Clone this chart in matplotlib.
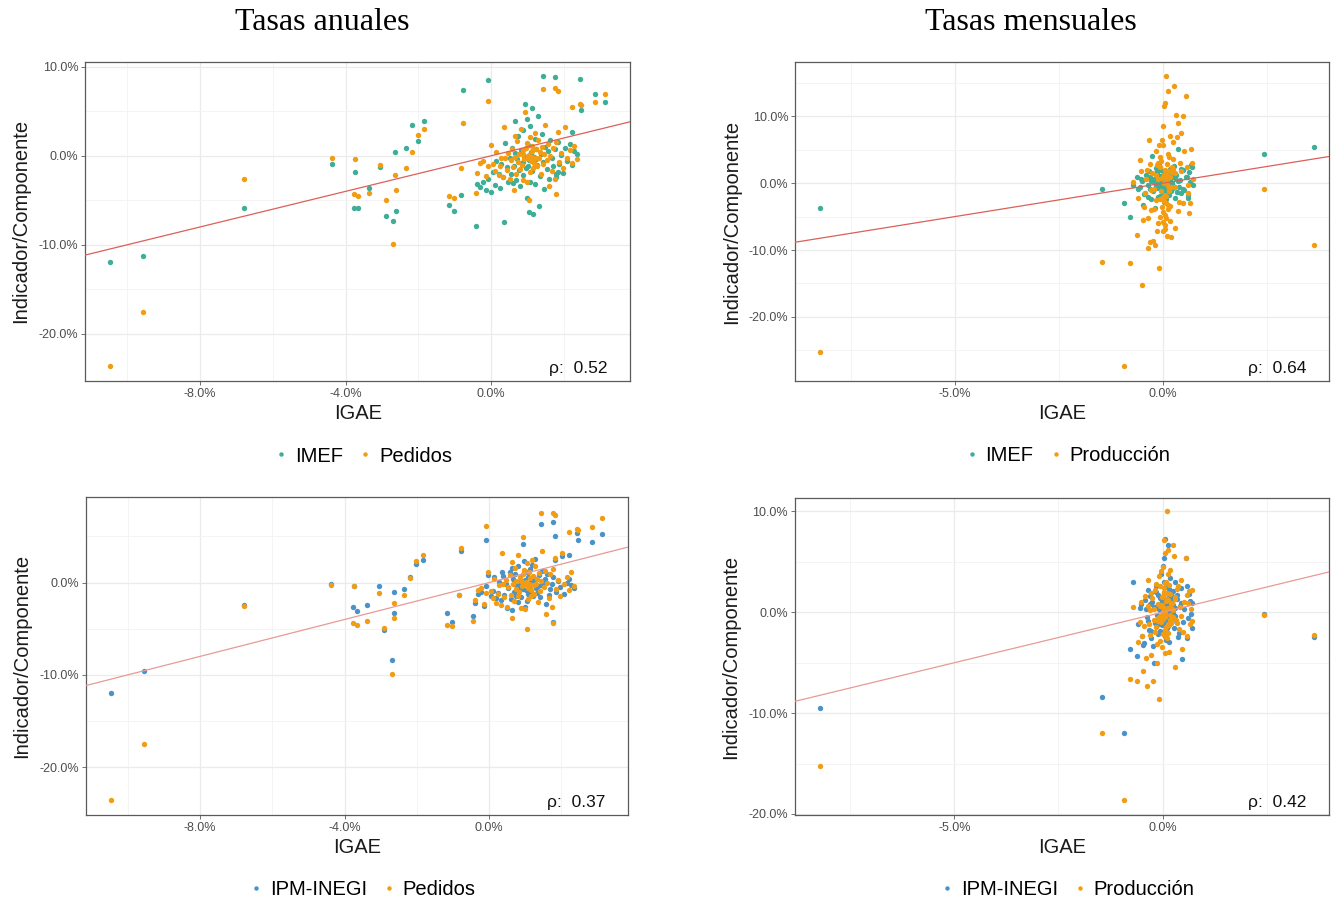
import matplotlib.pyplot as plt
from matplotlib.lines import Line2D
import numpy as np

plt.rcParams['font.family'] = ['Liberation Sans', 'DejaVu Sans']

# ---------------- annual rates (IGAE on x, shared by all annual series)
igae_anual = [
    -10.47, -9.56, -6.79, -4.38, -3.75, -3.77, -3.65, -3.37, -3.05, -2.90,
    -2.69, -2.62, -2.64, -2.35, -2.18, -2.01, -1.84, -1.15, -1.02, -0.83,
    -0.78, -0.43, -0.09, 0.36, 1.04, 1.43, 1.76, 1.84, 2.43, 2.84,
    3.13, 2.46, 2.22, 1.77,
    -0.38, -0.30, -0.22, -0.15, -0.08, -0.02, 0.05, 0.10, 0.14, 0.20,
    0.25, 0.28, 0.33, 0.38, 0.42, 0.46, 0.50, 0.53, 0.57, 0.60,
    0.63, 0.66, 0.68, 0.71, 0.74, 0.76, 0.79, 0.81, 0.84, 0.86,
    0.88, 0.91, 0.93, 0.95, 0.97, 0.99, 1.01, 1.03, 1.05, 1.07,
    1.09, 1.11, 1.13, 1.15, 1.17, 1.19, 1.21, 1.23, 1.26, 1.28,
    1.30, 1.33, 1.36, 1.39, 1.42, 1.45, 1.48, 1.52, 1.55, 1.58,
    1.62, 1.66, 1.70, 1.74, 1.78, 1.82, 1.86, 1.91, 1.96, 2.02,
    2.08, 2.15, 2.21, 2.28, 2.35, 0.65, 1.00, 1.12, 0.88, 1.24,
]
imef_anual = [
    -11.98, -11.3, -5.82, -0.97, -1.79, -5.9, -5.82, -3.66, -1.23, -6.79,
    -7.28, -6.19, 0.37, 0.86, 3.5, 1.64, 3.92, -5.52, -6.19, -4.44,
    7.35, -7.87, 8.54, -7.39, -6.3, 8.92, 8.81, -1.8, 8.66, 6.98,
    6.08, 5.11, 2.7, -2.4,
    -3.2, -3.5, -2.9, -3.8, -2.6, -4.1, -1.8, -3.3, -0.6, -2.1,
    -3.6, -0.9, -2.4, 1.4, -1.3, -3.0, -0.2, -2.0, 0.9, -3.1,
    -1.1, 0.3, -2.7, -0.4, 2.2, -1.6, -3.4, 0.6, -0.8, 2.9,
    -2.2, 0.0, 5.8, -1.4, 4.1, -4.8, 1.2, -0.5, 3.3, -2.9,
    0.4, -1.7, 5.4, -6.6, -0.1, 1.9, -3.2, 0.8, -1.0, 4.5,
    -5.7, -2.3, 0.2, 2.4, -0.7, -3.7, 1.0, -1.5, 0.5, -2.6,
    1.8, -0.3, -1.2, 0.7, -2.0, 1.5, -0.9, 0.1, -1.9, 0.9,
    -0.6, 1.3, -1.0, 0.5, 0.2, 3.9, -1.2, 0.0, -0.7, -0.4,
]
pedidos_anual = [
    -23.6, -17.5, -2.57, -0.22, -0.41, -4.33, -4.55, -4.14, -1.08, -4.93,
    -9.96, -3.84, -2.16, -1.38, 0.45, 2.31, 3.02, -4.55, -4.74, -1.38,
    3.73, -4.14, 6.16, 3.2, -5.0, 7.54, 7.6, 7.28, 5.86, 6.08,
    6.98, 5.7, 5.49, -4.33,
    -1.9, -0.8, -0.6, -2.3, -1.1, 1.2, -0.9, -1.7, 0.4, -2.2,
    -1.2, -0.3, -2.4, -0.2, -1.6, 0.3, -2.6, -0.5, 0.8, -1.3,
    -3.8, -0.1, -2.0, 1.6, -0.7, 0.2, -1.5, 3.0, -1.0, 0.6,
    -2.7, -0.4, 4.9, 0.9, 1.4, -2.9, -0.2, 0.1, 2.1, -1.8,
    -0.6, 1.1, 0.5, -1.4, -0.8, 2.5, -0.3, 0.7, -1.2, 1.8,
    -0.2, 0.4, -2.1, 1.0, -0.9, 0.2, 3.4, -0.5, 1.3, -3.4,
    0.0, -1.7, 0.9, -2.6, 1.5, 2.7, -0.7, 0.3, -1.4, 3.2,
    -0.2, 0.6, -0.8, 1.1, -0.4, 2.2, 0.0, -0.1, 0.2, -0.3,
]
ipm_anual = [
    -12.0, -9.57, -2.45, -0.2, -0.35, -2.64, -3.1, -2.45, -0.36, -5.09,
    -8.41, -3.32, -1.01, -0.65, 0.58, 2.02, 2.45, -3.29, -4.26, -1.37,
    3.43, -3.57, 4.62, 1.1, -2.0, 6.35, 6.6, 5.0, 5.4, 4.44,
    5.3, 4.6, 3.0, -4.22,
    -2.2, -1.2, -1.0, -2.5, -0.4, 0.8, -1.5, -0.9, 0.6, -1.7,
    -1.1, 0.1, -1.9, 0.7, -1.3, -0.2, -2.8, -0.6, 1.1, -1.8,
    -3.0, 0.4, -1.0, 0.9, -0.3, -1.4, -2.1, 1.8, -0.5, 0.2,
    -1.6, 0.0, 4.2, -0.7, 2.3, -2.6, 0.3, -0.8, 1.2, -1.2,
    0.6, -0.2, 1.5, -0.9, 0.2, 1.9, -1.5, -0.1, 0.5, 2.6,
    -0.6, -1.1, -0.4, 0.8, -1.6, -0.3, 1.3, 0.1, 0.4, -2.3,
    0.9, -1.3, -0.7, -0.2, 0.6, 2.5, -1.0, 0.2, -0.5, 2.9,
    -1.2, 0.0, 0.4, -0.3, -0.6, 1.6, -0.2, -0.4, -0.1, 0.3,
]

# ---------------- monthly rates (IGAE on x, shared by all monthly series)
igae_mensual = [
    -8.24, -1.45, -0.93, -0.79, 2.44, 3.63, -0.72,
    -0.62, -0.55, -0.50, -0.46, -0.42, -0.38, -0.35, -0.33, -0.30, -0.28,
    -0.25, -0.23, -0.21, -0.19, -0.17, -0.15, -0.14, -0.12, -0.11, -0.09,
    -0.08, -0.07, -0.06, -0.05, -0.04, -0.03, -0.02, -0.01, 0.00, 0.01,
    0.02, 0.03, 0.04, 0.05, 0.06, 0.07, 0.08, 0.09, 0.10, 0.11,
    0.12, 0.13, 0.14, 0.15, 0.16, 0.17, 0.18, 0.19, 0.21, 0.23,
    0.25, 0.27, 0.29, 0.31, 0.33, 0.36, 0.39, 0.42, 0.45, 0.48,
    0.52, 0.56, 0.60, 0.64, 0.68, 0.72, 0.04, 0.08, 0.12, 0.02,
    0.06, 0.10, 0.14, -0.02, 0.00, 0.05, 0.09, 0.13, 0.17, 0.03,
    0.07, 0.11, -0.06, -0.10, 0.20, 0.24, 0.01, 0.05, 0.15, 0.22,
    -0.58, -0.52, -0.44, -0.40, -0.36, -0.31, -0.27, -0.20, -0.16, -0.13,
    0.26, 0.30, 0.34, 0.38, 0.44, 0.50, 0.58, 0.62, 0.66, 0.70,
]
imef_mensual = [
    -3.68, -0.8, -2.89, -4.98, 4.43, 5.47, -0.2,
    1.0, -0.6, 0.3, -3.2, -1.4, 0.8, -2.0, 1.9, -0.9, 0.4,
    4.1, -1.2, 0.6, -3.7, 2.3, -0.4, 1.5, -2.1, 0.1, 2.8,
    -0.7, 1.1, -1.9, 0.5, -0.2, 2.0, -1.1, 0.9, -0.5, 0.2,
    -1.4, 0.7, -0.1, 1.6, -0.8, 0.3, -2.4, 1.2, -0.3, 0.6,
    1.4, -0.6, 0.9, -1.7, 0.0, 2.2, -0.9, 0.4, -1.2, 1.8,
    -0.4, 2.6, 0.8, -2.2, 1.3, 5.1, -0.6, 0.5, -1.5, 2.0,
    -1.0, 0.9, -2.25, 1.7, 2.75, -0.3, -2.8, 0.3, -0.5, 1.0,
    -1.6, 0.8, -0.2, -1.0, 1.3, -0.6, 0.5, -1.3, 0.2, -0.1,
    0.6, -0.8, 0.4, -0.4, 0.9, -0.7, 0.1, -0.3, 0.3, 0.0,
    -0.9, 0.6, -1.6, 1.3, -0.3, 0.9, -2.4, 0.2, -0.7, 1.8,
    -0.5, 1.1, -1.3, 0.4, 2.1, -0.8, 1.0, -1.8, 0.2, 2.4,
]
prod_imef_mensual = [
    -25.2, -11.8, -27.4, -11.9, -0.8, -9.3, 0.25,
    -7.7, 3.5, -15.2, -5.5, -1.5, 2.0, -9.7, 6.4, -8.8, -4.0,
    1.5, -8.6, -0.8, -9.2, 4.8, -2.5, 2.7, -6.0, 0.6, 5.7,
    -12.65, 4.0, -5.0, 2.5, -1.2, 3.3, -3.6, 0.8, -2.0, 5.75,
    -4.3, 1.2, 11.5, -6.8, 2.0, -1.7, 16.0, -3.0, 0.4, -7.9,
    1.8, -3.8, 13.75, -1.0, 3.9, -5.6, 0.9, 7.0, -8.1, 2.4,
    6.15, 14.6, -6.75, 1.6, 10.25, 9.0, -2.8, 3.0, 7.5, 10.1,
    4.85, 13.0, -1.4, -4.5, 5.1, 0.6, -2.6, -5.2, -3.3, 8.6,
    -4.8, 2.9, -0.4, 6.5, -7.2, 1.0, -1.9, 4.4, -3.4, 0.0,
    -6.3, 1.3, -2.3, 3.1, -0.6, 2.2, -5.8, 12.0, -1.1, 1.7,
    -2.2, 1.8, -3.5, 0.6, -5.2, 2.9, -1.0, -3.9, 1.2, -7.1,
    3.6, -0.5, 6.9, -4.1, 1.9, -2.9, 2.4, -0.3, -3.0, 3.1,
]
ipm_mensual = [
    -9.52, -8.4, -12.0, -3.6, -0.13, -2.5, 2.97,
    -4.3, 0.4, -2.4, -3.2, 1.2, -0.5, 2.2, -1.8, 0.8, -2.6,
    1.0, -3.3, -5.0, 0.5, -1.1, 2.6, -0.3, -2.2, 1.7, 0.3,
    -0.8, 1.4, -1.9, 0.2, 3.8, -0.6, 1.1, -1.3, 4.6, 0.7,
    -0.5, 1.9, 5.4, -2.4, 7.26, -0.9, 0.6, 2.9, -1.6, 0.0,
    6.7, -1.2, 0.9, 2.3, -2.9, 1.5, -0.2, 3.4, -0.7, 1.0,
    2.1, -1.6, 0.4, 3.0, -0.9, 1.7, -2.1, 0.6, 2.4, -4.6,
    0.3, 5.4, -2.6, 1.8, -0.2, 0.9, 3.0, -1.0, 1.4, -2.0,
    -0.3, 2.5, -1.4, 0.9, -0.6, 1.3, -2.7, 0.1, 0.6, -1.1,
    0.4, -0.4, 0.2, -0.8, 1.2, -0.1, 0.9, -0.7, 0.5, 1.6,
    -1.2, 0.8, -3.0, 0.3, -0.9, 1.6, -1.9, 0.5, 2.0, -1.3,
    0.7, -0.4, 1.3, -2.5, 0.9, -1.0, 2.6, -0.6, 1.1, -1.6,
]
prod_ipm_mensual = [
    -15.2, -12.0, -18.6, -6.6, -0.3, -2.27, 0.5,
    -6.8, -1.0, -2.4, -5.8, 1.6, -7.3, 3.2, -1.2, 0.2, -4.2,
    1.4, -6.8, 0.3, -2.0, 2.2, -1.5, -3.1, 0.8, -0.6, 3.6,
    -8.6, 2.6, -2.8, -0.4, 4.1, -1.0, 1.5, -3.4, 4.5, 0.1,
    -0.7, 2.0, 7.2, -4.0, 5.9, -1.8, 1.1, 3.0, -2.6, 10.0,
    6.2, -2.1, 0.4, 2.7, -3.9, 1.8, -0.3, 4.2, -1.1, 0.9,
    6.7, 5.6, -5.4, 1.3, -0.8, 2.3, -1.7, 0.5, 3.2, -3.6,
    1.0, 5.4, -2.4, 2.1, 0.3, -0.9, 2.4, -1.5, 3.8, -2.2,
    -0.5, 1.9, -1.2, 0.7, -0.1, 2.9, -2.5, 1.2, -0.8, 0.4,
    -0.2, 1.3, 0.6, -0.9, 0.8, -0.5, 1.6, 0.0, -1.3, 0.3,
    -2.9, 1.0, -1.4, -4.5, 0.6, -2.3, 1.9, -0.8, 2.8, -5.0,
    0.2, 1.5, -1.1, 2.6, -0.4, -2.0, 1.7, 0.9, -1.2, 2.2,
]

teal = '#3DAF98'
orange = '#F39C12'
blue = '#4A93C8'

W, H = 1331, 905
fig = plt.figure(figsize=(W / 100, H / 100), dpi=100)


def rect(left, top, right, bottom):
    return [left / W, 1 - bottom / H, (right - left) / W, (bottom - top) / H]


def panel(r, x, y1, y2, c1, c2, n1, n2, rho, xlim, ylim,
          xmaj, xmin, ymaj, ymin, line_color):
    ax = fig.add_axes(r)
    ax.scatter(x, y1, s=15, color=c1, lw=0, zorder=3)
    ax.scatter(x, y2, s=15, color=c2, lw=0, zorder=3)
    ax.axline((0, 0), slope=1, color=line_color, lw=0.9, zorder=4)
    ax.set_xlim(xlim)
    ax.set_ylim(ylim)
    ax.set_xticks(xmaj)
    ax.set_xticklabels(['%.1f%%' % v for v in xmaj])
    ax.set_xticks(xmin, minor=True)
    ax.set_yticks(ymaj)
    ax.set_yticklabels(['%.1f%%' % v for v in ymaj])
    ax.set_yticks(ymin, minor=True)
    ax.grid(True, which='major', color='#EBEBEB', lw=0.9, zorder=0)
    ax.grid(True, which='minor', color='#F3F3F3', lw=0.6, zorder=0)
    ax.set_axisbelow(True)
    for s in ax.spines.values():
        s.set_color('#5A5A5A')
        s.set_linewidth(0.9)
    ax.tick_params(which='major', length=3, width=0.6, color='#5A5A5A',
                   labelsize=9, labelcolor='#4D4D4D', pad=2)
    ax.tick_params(which='minor', length=0)
    ax.set_xlabel('IGAE', fontsize=14.5, color='#1A1A1A')
    ax.xaxis.set_label_coords(0.5, -0.073)
    ax.set_ylabel('Indicador/Componente', fontsize=14.5, color='#1A1A1A')
    ax.yaxis.set_label_coords(-0.102, 0.5)
    ax.text(0.958, 0.015, 'ρ:  %.2f' % rho, transform=ax.transAxes,
            ha='right', va='bottom', fontsize=12.5, color='#111111')
    handles = [Line2D([], [], ls='', marker='o', markersize=3.2, color=c1,
                      markeredgewidth=0),
               Line2D([], [], ls='', marker='o', markersize=3.2, color=c2,
                      markeredgewidth=0)]
    ax.legend(handles, [n1, n2], loc='center', bbox_to_anchor=(0.509, -0.235),
              ncol=2, frameon=False, fontsize=14.5, handlelength=0.8,
              handletextpad=0.28, columnspacing=0.7)
    return ax


panel(rect(85.4, 61.7, 630, 381), igae_anual, imef_anual, pedidos_anual,
      teal, orange, 'IMEF', 'Pedidos', 0.52, (-11.15, 3.81), (-25.3, 10.56),
      [-8, -4, 0], [-10, -6, -2, 2], [10, 0, -10, -20], [5, -5, -15],
      '#DC5F5A')
panel(rect(795.2, 62.3, 1329, 381), igae_mensual, imef_mensual,
      prod_imef_mensual, teal, orange, 'IMEF', 'Producción', 0.64,
      (-8.83, 4.0), (-29.6, 18.1), [-5, 0], [-7.5, -2.5, 2.5],
      [10, 0, -10, -20], [15, 5, -5, -15, -25], '#DC5F5A')
panel(rect(86, 497.3, 628, 815), igae_anual, ipm_anual, pedidos_anual,
      blue, orange, 'IPM-INEGI', 'Pedidos', 0.37, (-11.16, 3.85),
      (-25.2, 9.25), [-8, -4, 0], [-10, -6, -2, 2], [0, -10, -20],
      [5, -5, -15], '#E79A96')
panel(rect(795, 498.3, 1329, 815), igae_mensual, ipm_mensual,
      prod_ipm_mensual, blue, orange, 'IPM-INEGI', 'Producción', 0.42,
      (-8.83, 4.0), (-20.1, 11.3), [-5, 0], [-7.5, -2.5, 2.5],
      [10, 0, -10, -20], [5, -5, -15], '#E79A96')

fig.text(322 / W, 1 - 22 / H, 'Tasas anuales', ha='center', va='center',
         fontsize=23, family=['Liberation Serif', 'DejaVu Serif'])
fig.text(1031 / W, 1 - 22 / H, 'Tasas mensuales', ha='center', va='center',
         fontsize=23, family=['Liberation Serif', 'DejaVu Serif'])

fig.savefig('out.png', dpi=100, facecolor='white')
